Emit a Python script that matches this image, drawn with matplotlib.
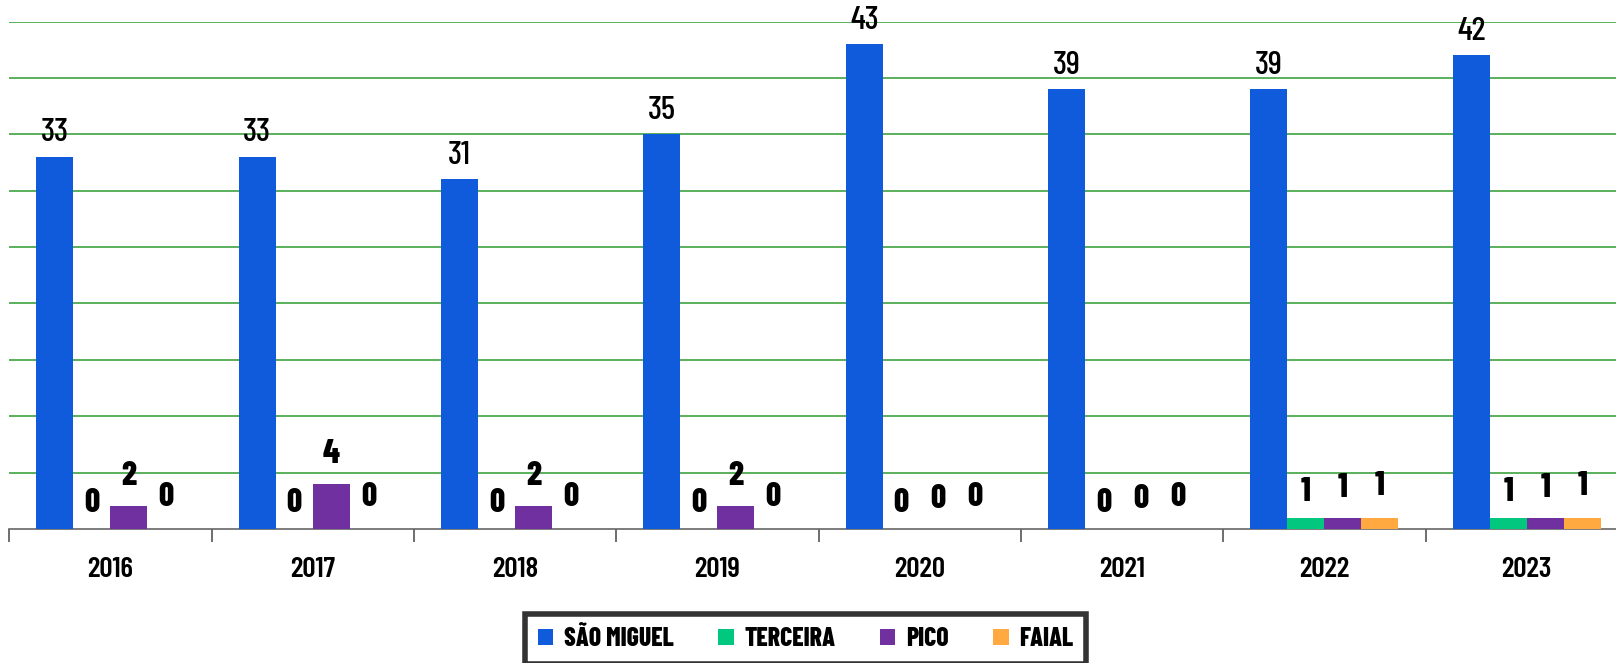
import numpy as np
import matplotlib
matplotlib.use("Agg")
import matplotlib.pyplot as plt
from matplotlib.patches import Patch

anos = ["2016", "2017", "2018", "2019", "2020", "2021", "2022", "2023"]
sao_miguel = [33, 33, 31, 35, 43, 39, 39, 42]
terceira = [0, 0, 0, 0, 0, 0, 1, 1]
pico = [2, 4, 2, 2, 0, 0, 1, 1]
faial = [0, 0, 0, 0, 0, 0, 1, 1]

series = [("SÃO MIGUEL", sao_miguel, "#0F5BDC"),
          ("TERCEIRA", terceira, "#02C77E"),
          ("PICO", pico, "#7030A0"),
          ("FAIAL", faial, "#FFA940")]

# distancia do rotulo ao topo da barra (pixeis)
offsets_px = [24, 26, 30, 32]

plt.rcParams['font.family'] = ['Barlow Condensed', 'DejaVu Sans']

W, H = 1616, 663
fig = plt.figure(figsize=(W / 100, H / 100), dpi=100)
ax = fig.add_axes([9.3 / W, 1 - 529 / H, 1618.6 / W, (529 - 21.6) / H])

x = np.arange(len(anos))
bw = 0.183
for i, (nome, vals, cor) in enumerate(series):
    pos = x + (i - 1.5) * bw
    ax.bar(pos, vals, width=bw, color=cor, edgecolor='none', zorder=3, label=nome)
    for px, v in zip(pos, vals):
        if i == 0:
            fs, fw = 24, 500
        else:
            fs, fw = 24, 800
        ax.annotate(str(v), (px, v), xytext=(0, offsets_px[i] * 0.72),
                    textcoords='offset points', ha='center', va='center',
                    fontsize=fs, fontweight=fw, color='black', zorder=4)

ax.set_xlim(-0.5, len(anos) - 0.5)
ax.set_ylim(0, 45)
ax.set_yticks(np.arange(5, 50, 5))
ax.yaxis.grid(True, color='#2e9a2e', linewidth=1.1, zorder=0)
ax.tick_params(axis='y', left=False, labelleft=False)

ax.set_xticks(x)
ax.set_xticklabels(anos, fontsize=21, fontweight=600)
ax.set_xticks(np.arange(-0.5, len(anos), 1), minor=True)
ax.tick_params(axis='x', which='major', length=0, pad=20)
ax.tick_params(axis='x', which='minor', length=9, width=1.2, color='#555555')

for s in ['top', 'right', 'left']:
    ax.spines[s].set_visible(False)
ax.spines['bottom'].set_color('#666666')
ax.spines['bottom'].set_linewidth(1.2)

handles = [Patch(facecolor=c, edgecolor='none') for _, _, c in series]
leg = fig.legend(handles, [n for n, _, _ in series], loc='upper left',
                 bbox_to_anchor=(525 / W, 1 - 614 / H), ncol=4, borderaxespad=0,
                 prop={'size': 18.5, 'weight': 800}, frameon=True,
                 fancybox=False, handlelength=0.6, handleheight=0.6,
                 handletextpad=0.4, columnspacing=1.75, borderpad=0.5)
leg.get_frame().set_edgecolor('black')
leg.get_frame().set_linewidth(4)

fig.savefig("out.png", dpi=100)
